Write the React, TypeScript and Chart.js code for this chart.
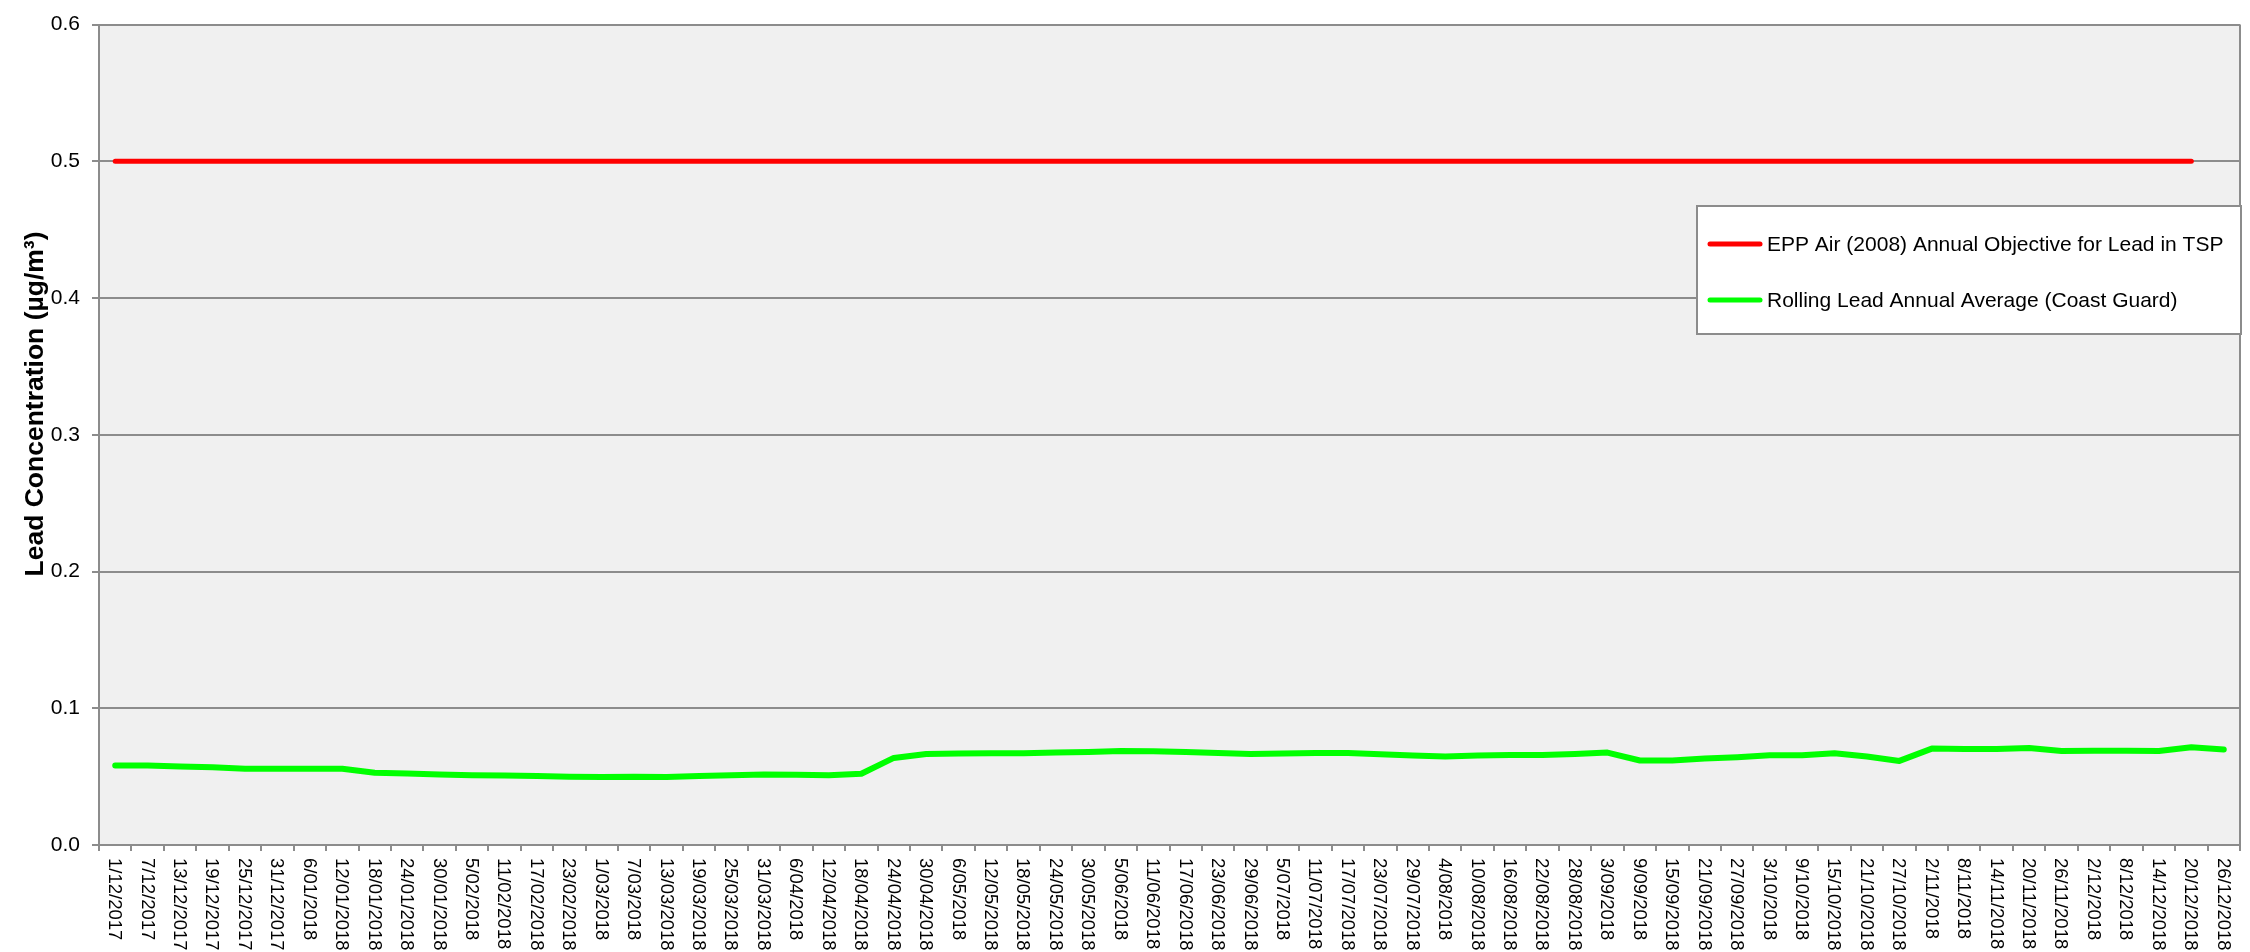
import React, { useEffect, useRef } from "react";
import { Chart, registerables } from "chart.js";

Chart.register(...registerables);

const dateLabels: string[] = [
  "1/12/2017", "7/12/2017", "13/12/2017", "19/12/2017", "25/12/2017", "31/12/2017",
  "6/01/2018", "12/01/2018", "18/01/2018", "24/01/2018", "30/01/2018", "5/02/2018",
  "11/02/2018", "17/02/2018", "23/02/2018", "1/03/2018", "7/03/2018", "13/03/2018",
  "19/03/2018", "25/03/2018", "31/03/2018", "6/04/2018", "12/04/2018", "18/04/2018",
  "24/04/2018", "30/04/2018", "6/05/2018", "12/05/2018", "18/05/2018", "24/05/2018",
  "30/05/2018", "5/06/2018", "11/06/2018", "17/06/2018", "23/06/2018", "29/06/2018",
  "5/07/2018", "11/07/2018", "17/07/2018", "23/07/2018", "29/07/2018", "4/08/2018",
  "10/08/2018", "16/08/2018", "22/08/2018", "28/08/2018", "3/09/2018", "9/09/2018",
  "15/09/2018", "21/09/2018", "27/09/2018", "3/10/2018", "9/10/2018", "15/10/2018",
  "21/10/2018", "27/10/2018", "2/11/2018", "8/11/2018", "14/11/2018", "20/11/2018",
  "26/11/2018", "2/12/2018", "8/12/2018", "14/12/2018", "20/12/2018", "26/12/2018",
];

// EPP Air (2008) objective: 1/12/2017 .. 20/12/2018
const objectiveValues: number[] = [
  0.5, 0.5, 0.5, 0.5, 0.5, 0.5, 0.5, 0.5, 0.5, 0.5, 0.5, 0.5, 0.5,
  0.5, 0.5, 0.5, 0.5, 0.5, 0.5, 0.5, 0.5, 0.5, 0.5, 0.5, 0.5, 0.5,
  0.5, 0.5, 0.5, 0.5, 0.5, 0.5, 0.5, 0.5, 0.5, 0.5, 0.5, 0.5, 0.5,
  0.5, 0.5, 0.5, 0.5, 0.5, 0.5, 0.5, 0.5, 0.5, 0.5, 0.5, 0.5, 0.5,
  0.5, 0.5, 0.5, 0.5, 0.5, 0.5, 0.5, 0.5, 0.5, 0.5, 0.5, 0.5, 0.5,
];

const rollingAverageValues: number[] = [
  0.0581, 0.0581, 0.0574, 0.0569, 0.0557, 0.0557, 0.0557, 0.0557, 0.0528, 0.0523,
  0.0516, 0.0511, 0.0509, 0.0504, 0.0499, 0.0497, 0.0500, 0.0497, 0.0504, 0.0511,
  0.0516, 0.0514, 0.0511, 0.0521, 0.0637, 0.0666, 0.0669, 0.0671, 0.0671, 0.0676,
  0.0681, 0.0688, 0.0686, 0.0681, 0.0673, 0.0666, 0.0669, 0.0673, 0.0673, 0.0664,
  0.0654, 0.0647, 0.0654, 0.0659, 0.0659, 0.0666, 0.0676, 0.0618, 0.0618, 0.0632,
  0.0642, 0.0656, 0.0656, 0.0671, 0.0647, 0.0615, 0.0705, 0.0703, 0.0703, 0.0710,
  0.0688, 0.0690, 0.0690, 0.0688, 0.0715, 0.0698,
];

const seriesNames: string[] = [
  "EPP Air (2008) Annual Objective for Lead in TSP",
  "Rolling Lead Annual Average (Coast Guard)",
];
const seriesColors: string[] = ["#ff0000", "#00ff00"];

const yAxisTitle = "Lead Concentration (µg/m³)";
const yMin = 0;
const yMax = 0.6;
const yStep = 0.1;

const FONT = "'Liberation Sans', Arial, Helvetica, sans-serif";
const GRID = "#8c8c8c";

const customPlugin = {
  id: "customDecor",
  beforeDraw(chart: any) {
    const { ctx, chartArea } = chart;
    ctx.save();
    ctx.fillStyle = "#f0f0f0";
    ctx.fillRect(chartArea.left, chartArea.top, chartArea.right - chartArea.left, chartArea.bottom - chartArea.top);
    ctx.restore();
  },
  afterDraw(chart: any) {
    const { ctx, chartArea } = chart;
    const xs = chart.scales.x;
    ctx.save();
    // right border of plot area
    ctx.strokeStyle = GRID;
    ctx.lineWidth = 2;
    ctx.beginPath();
    ctx.moveTo(chartArea.right, chartArea.top);
    ctx.lineTo(chartArea.right, chartArea.bottom);
    ctx.stroke();

    // x tick labels rotated clockwise
    ctx.fillStyle = "#000";
    ctx.font = `18.5px ${FONT}`;
    ctx.textAlign = "left";
    ctx.textBaseline = "middle";
    const labels = chart.data.labels as string[];
    for (let i = 0; i < labels.length; i++) {
      const x = xs.getPixelForTick(i);
      ctx.save();
      ctx.translate(x - 1, chartArea.bottom + 13);
      ctx.rotate(Math.PI / 2);
      ctx.fillText(labels[i], 0, 0);
      ctx.restore();
    }

    // y axis title
    ctx.save();
    ctx.font = `bold 26.5px ${FONT}`;
    ctx.textAlign = "center";
    ctx.textBaseline = "middle";
    ctx.translate(36, 404);
    ctx.rotate(-Math.PI / 2);
    ctx.fillText(yAxisTitle, 0, 0);
    ctx.restore();

    // legend box
    const bx = 1697, by = 206, bw = 544, bh = 128;
    ctx.fillStyle = "#ffffff";
    ctx.fillRect(bx, by, bw, bh);
    ctx.strokeStyle = GRID;
    ctx.lineWidth = 2;
    ctx.strokeRect(bx, by, bw, bh);
    const rows = [244, 300];
    chart.data.datasets.forEach((ds: any, k: number) => {
      const y = rows[k];
      ctx.strokeStyle = ds.borderColor;
      ctx.lineWidth = 5;
      ctx.lineCap = "round";
      ctx.beginPath();
      ctx.moveTo(1710, y);
      ctx.lineTo(1760, y);
      ctx.stroke();
      ctx.fillStyle = "#000";
      ctx.font = `21px ${FONT}`;
      ctx.textAlign = "left";
      ctx.textBaseline = "middle";
      ctx.fillText(ds.label, 1767, y + 1);
    });
    ctx.restore();
  },
};

export default function App() {
  const canvasRef = useRef<HTMLCanvasElement | null>(null);

  useEffect(() => {
    const canvas = canvasRef.current;
    if (!canvas) return;
    const chart = new Chart(canvas, {
      type: "line",
      data: {
        labels: dateLabels,
        datasets: [
          {
            label: seriesNames[0],
            data: objectiveValues,
            borderColor: seriesColors[0],
            backgroundColor: seriesColors[0],
            borderWidth: 5,
            borderCapStyle: "round",
            borderJoinStyle: "round",
            pointRadius: 0,
            tension: 0,
          },
          {
            label: seriesNames[1],
            data: rollingAverageValues,
            borderColor: seriesColors[1],
            backgroundColor: seriesColors[1],
            borderWidth: 6,
            borderCapStyle: "round",
            borderJoinStyle: "round",
            pointRadius: 0,
            tension: 0,
          },
        ],
      },
      options: {
        responsive: false,
        animation: false,
        devicePixelRatio: 1,
        layout: { padding: { top: 17, right: 10, left: 0, bottom: 0 } },
        plugins: {
          legend: { display: false },
          tooltip: { enabled: false },
          title: { display: false },
        },
        scales: {
          x: {
            type: "category",
            offset: true,
            grid: {
              offset: true,
              drawOnChartArea: false,
              drawTicks: true,
              tickLength: 6,
              color: GRID,
              lineWidth: 2,
            },
            border: { display: true, color: GRID, width: 2 },
            ticks: { display: false, autoSkip: false },
            afterFit: (scale: any) => {
              scale.height = 107;
            },
          },
          y: {
            min: yMin,
            max: yMax,
            grid: {
              color: GRID,
              lineWidth: 2,
              drawTicks: true,
              tickLength: 7,
            },
            border: { display: true, color: GRID, width: 2 },
            ticks: {
              stepSize: yStep,
              padding: 12,
              color: "#000",
              font: { family: FONT, size: 21 },
              callback: (v: any) => Number(v).toFixed(1),
            },
            afterFit: (scale: any) => {
              scale.width = 99;
            },
          },
        },
      },
      plugins: [customPlugin],
    } as any);
    return () => chart.destroy();
  }, []);

  return (
    <div style={{ position: "absolute", left: 0, top: 0, width: 2250, height: 952, background: "#fff" }}>
      <canvas ref={canvasRef} width={2250} height={952} style={{ display: "block" }} />
    </div>
  );
}
